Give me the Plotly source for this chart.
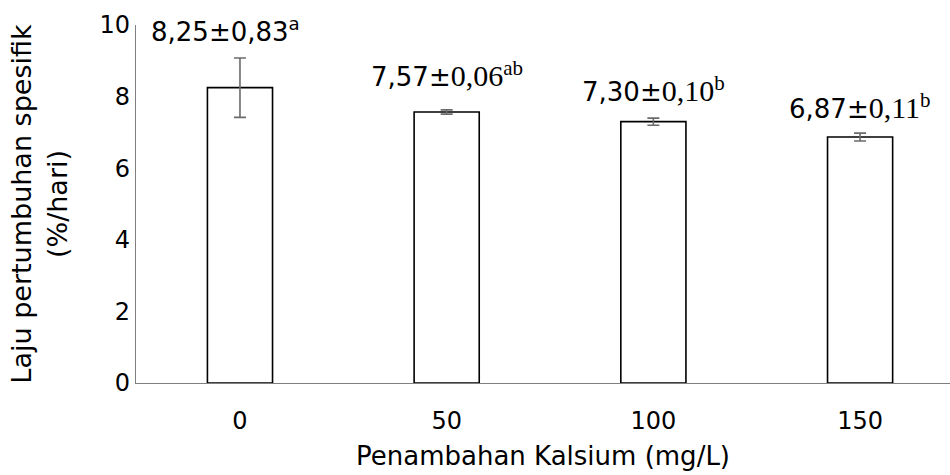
import plotly.graph_objects as go

# Specific growth rate by calcium addition
categories = ["0", "50", "100", "150"]
means = [8.25, 7.57, 7.30, 6.87]
sds = [0.83, 0.06, 0.10, 0.11]
letters = ["a", "ab", "b", "b"]

SANS = "DejaVu Sans"
SERIF = "Liberation Serif"


def fmt(v):
    return f"{v:.2f}".replace(".", ",")


# first label is fully sans; the others set the SD part in a serif face
label_texts = []
for i, (m, s, l) in enumerate(zip(means, sds, letters)):
    if i == 0:
        label_texts.append(f"{fmt(m)}±{fmt(s)}<sup>{l}</sup>")
    else:
        label_texts.append(
            f'{fmt(m)}±<span style="font-family:{SERIF};font-size:30px">{fmt(s)}</span>'
            f'<sup><span style="font-family:{SERIF};font-size:21px">{l}</span></sup>'
        )

label_shift = [58, 38, 33, 31]
label_dx = [-14, 0, 0, 0]

fig = go.Figure()
fig.add_trace(go.Bar(
    x=categories,
    y=means,
    width=0.315,
    marker=dict(color="white", line=dict(color="black", width=1.6)),
    error_y=dict(type="data", array=sds, visible=True,
                 color="#6b6b6b", thickness=1.6, width=6),
    showlegend=False,
))

for i, (m, t) in enumerate(zip(means, label_texts)):
    fig.add_annotation(
        x=i, y=m, text=t, showarrow=False,
        yanchor="middle", xanchor="center",
        yshift=label_shift[i], xshift=label_dx[i],
        font=dict(family=SANS, size=26, color="black"),
    )

fig.update_layout(
    width=950, height=475,
    margin=dict(l=136, r=0, t=25, b=92),
    paper_bgcolor="white", plot_bgcolor="white",
    font=dict(family=SANS, size=24, color="black"),
    xaxis=dict(
        type="category",
        range=[-0.503, 3.435],
        showline=True, linecolor="#7f7f7f", linewidth=1.3,
        ticks="", showgrid=False, zeroline=False,
        tickfont=dict(family=SANS, size=24),
        ticklabelstandoff=16,
        title=dict(text="Penambahan Kalsium (mg/L)", standoff=12,
                   font=dict(family=SANS, size=26)),
    ),
    yaxis=dict(
        range=[0, 10], dtick=2,
        showline=True, linecolor="#7f7f7f", linewidth=1.3,
        ticks="", showgrid=False, zeroline=False,
        tickfont=dict(family=SANS, size=24),
        title=dict(text="Laju pertumbuhan spesifik<br>(%/hari)", standoff=24,
                   font=dict(family=SANS, size=27)),
    ),
)

fig.write_html("out.html")
